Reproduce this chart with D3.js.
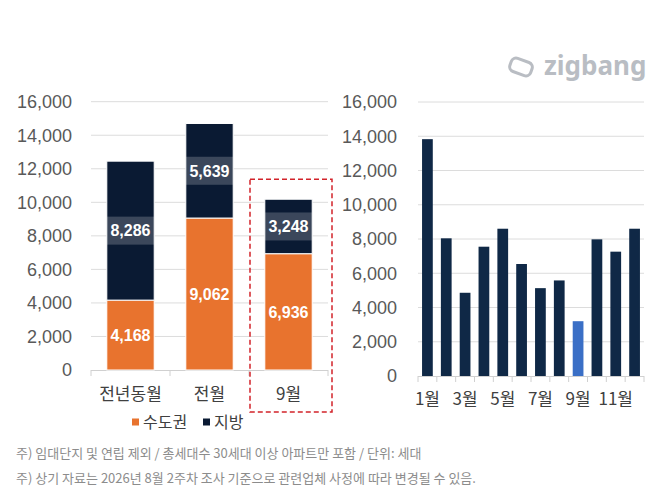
<!DOCTYPE html>
<html>
<head>
<meta charset="utf-8">
<script src="https://cdn.jsdelivr.net/npm/d3@7"></script>
<style>
  body { margin: 0; background: #fff; }
  svg { display: block; }
</style>
</head>
<body>
<svg id="chart" width="670" height="499"></svg>
<script>
// left: stacked comparison
var groups = ['전년동월', '전월', '9월'];
var metro = [4168, 9062, 6936];     // 수도권
var region = [8286, 5639, 3248];    // 지방
var seriesNames = ['수도권', '지방'];

// right: monthly
var months = ['1월','2월','3월','4월','5월','6월','7월','8월','9월','10월','11월','12월'];
var monthly = [13830, 8040, 4860, 7550, 8600, 6540, 5130, 5580, 3200, 7980, 7260, 8600];
var highlightMonth = '9월';

var yTicks = [0, 2000, 4000, 6000, 8000, 10000, 12000, 14000, 16000];
var notes = [
  '주) 임대단지 및 연립 제외 / 총세대수 30세대 이상 아파트만 포함 / 단위: 세대',
  '주) 상기 자료는 2026년 8월 2주차 조사 기준으로 관련업체 사정에 따라 변경될 수 있음.'
];

var ORANGE = '#e8732e', NAVY = '#0a1a33', NAVY2 = '#0f2846', BLUE = '#3a6fc6';
var NUMFONT = '"Liberation Sans", Arial, "Noto Sans CJK KR", sans-serif';
var KRFONT = '"Noto Sans CJK KR", "Noto Sans", sans-serif';

var svg = d3.select('#chart');
var fmt = d3.format(',');

function drawGrid(g, y, x0, x1, labelX){
	g.selectAll('line.grid').data(yTicks.slice(1)).enter().append('line')
		.attr('x1', x0).attr('x2', x1)
		.attr('y1', function(d){ return y(d); }).attr('y2', function(d){ return y(d); })
		.attr('stroke', '#dcdcdc').attr('stroke-width', 1);
	g.selectAll('text.ytick').data(yTicks).enter().append('text')
		.attr('x', labelX).attr('y', function(d){ return y(d); })
		.attr('dy', '0.36em').attr('text-anchor', 'end')
		.style('font-family', NUMFONT).style('font-size', '18px').attr('fill', '#595959')
		.text(function(d){ return fmt(d); });
}

function drawBaseline(g, x, y, x0, x1){
	var step = x.step();
	var bounds = x.domain().map(function(d){ return x(d) - step * x.paddingOuter(); });
	bounds.push(x1);
	g.append('line').attr('x1', x0).attr('x2', x1).attr('y1', y(0) + 0.5).attr('y2', y(0) + 0.5)
		.attr('stroke', '#d0d0d0');
	g.selectAll('line.tk').data(bounds).enter().append('line')
		.attr('x1', function(d){ return d; }).attr('x2', function(d){ return d; })
		.attr('y1', y(0)).attr('y2', y(0) + 6).attr('stroke', '#d0d0d0');
}

// ---------- left chart ----------
var xL = d3.scaleBand().domain(groups).range([91, 328]).paddingInner(0.4).paddingOuter(0.2);
var yL = d3.scaleLinear().domain([0, 16000]).range([370, 101.7]);
var gl = svg.append('g');
drawGrid(gl, yL, 91, 328, 72);
drawBaseline(gl, xL, yL, 91, 328);

var stackData = groups.map(function(g, i){ return {id: g, metro: metro[i], region: region[i]}; });
var stacked = d3.stack().keys(['metro', 'region'])(stackData);
var colors = [ORANGE, NAVY];

stacked.forEach(function(layer, li){
	gl.selectAll('rect.s' + li).data(layer).enter().append('rect')
		.attr('x', function(d){ return xL(d.data.id); })
		.attr('y', function(d){ return yL(d[1]); })
		.attr('width', xL.bandwidth())
		.attr('height', function(d){ return yL(d[0]) - yL(d[1]); })
		.attr('fill', colors[li]).attr('stroke', '#fff').attr('stroke-width', 1);
});

// label box on region segment
gl.selectAll('rect.lb').data(stacked[1]).enter().append('rect')
	.attr('x', function(d){ return xL(d.data.id); })
	.attr('y', function(d){ return (yL(d[0]) + yL(d[1])) / 2 - 14; })
	.attr('width', xL.bandwidth()).attr('height', 28)
	.attr('fill', '#ffffff').attr('fill-opacity', 0.2);

stacked.forEach(function(layer){
	gl.selectAll('text.v' + layer.key).data(layer).enter().append('text')
		.attr('x', function(d){ return xL(d.data.id) + xL.bandwidth() / 2; })
		.attr('y', function(d){ return (yL(d[0]) + yL(d[1])) / 2; })
		.attr('dy', '0.36em').attr('text-anchor', 'middle')
		.style('font-family', NUMFONT).style('font-size', '16px').style('font-weight', 'bold')
		.attr('fill', '#fff')
		.text(function(d){ return fmt(d[1] - d[0]); });
});

gl.selectAll('text.xl').data(groups).enter().append('text')
	.attr('x', function(d){ return xL(d) + xL.bandwidth() / 2; })
	.attr('y', 400).attr('text-anchor', 'middle')
	.style('font-family', KRFONT).style('font-size', '17px').attr('fill', '#404040')
	.text(function(d){ return d; });

// highlight box around 9월
var hx = xL('9월');
gl.append('rect')
	.attr('x', hx - xL.step() * 0.2 + 1).attr('y', yL(metro[2] + region[2]) - 20)
	.attr('width', xL.step() + 3).attr('height', 412 - (yL(metro[2] + region[2]) - 20))
	.attr('fill', 'none').attr('stroke', '#d2232a').attr('stroke-width', 1.5)
	.attr('stroke-dasharray', '5,3');

// legend
var legend = gl.append('g').attr('transform', 'translate(132,422)');
var lx = [0, 71];
seriesNames.forEach(function(n, i){
	legend.append('rect').attr('x', lx[i]).attr('y', -3.5).attr('width', 7).attr('height', 7).attr('fill', colors[i]);
	legend.append('text').attr('x', lx[i] + 11).attr('y', 0).attr('dy', '0.36em')
		.style('font-family', KRFONT).style('font-size', '16px').attr('fill', '#404040').text(n);
});

// ---------- right chart ----------
var xR = d3.scaleBand().domain(months).range([418, 644]).paddingInner(0.43).paddingOuter(0.215);
var yR = d3.scaleLinear().domain([0, 16000]).range([376, 102]);
var gr = svg.append('g');
drawGrid(gr, yR, 418, 644, 397);
drawBaseline(gr, xR, yR, 418, 644);

gr.selectAll('rect.m').data(monthly).enter().append('rect')
	.attr('x', function(d, i){ return xR(months[i]); })
	.attr('y', function(d){ return yR(d); })
	.attr('width', xR.bandwidth())
	.attr('height', function(d){ return yR(0) - yR(d); })
	.attr('fill', function(d, i){ return months[i] == highlightMonth ? BLUE : NAVY2; });

gr.selectAll('text.xm').data(months.filter(function(d, i){ return i % 2 == 0; })).enter().append('text')
	.attr('x', function(d){ return xR(d) + xR.bandwidth() / 2; })
	.attr('y', 405).attr('text-anchor', 'middle')
	.style('font-family', KRFONT).style('font-size', '17px').attr('fill', '#404040')
	.text(function(d){ return d; });

// ---------- logo ----------
var logo = svg.append('g').attr('transform', 'translate(521,67) rotate(20)');
logo.append('rect').attr('x', -11).attr('y', -7).attr('width', 22).attr('height', 14).attr('rx', 5)
	.attr('fill', 'none').attr('stroke', '#b9bdc3').attr('stroke-width', 3);
svg.append('text').attr('x', 544).attr('y', 75)
	.style('font-family', '"Noto Sans", sans-serif').style('font-size', '26px').style('font-weight', 'bold')
	.attr('fill', '#b9bdc3').text('zigbang');

// ---------- notes ----------
svg.selectAll('text.note').data(notes).enter().append('text')
	.attr('x', 16).attr('y', function(d, i){ return 458 + i * 25; })
	.style('font-family', KRFONT).style('font-size', '13px').attr('fill', '#8c8c8c')
	.text(function(d){ return d; });
</script>
</body>
</html>
